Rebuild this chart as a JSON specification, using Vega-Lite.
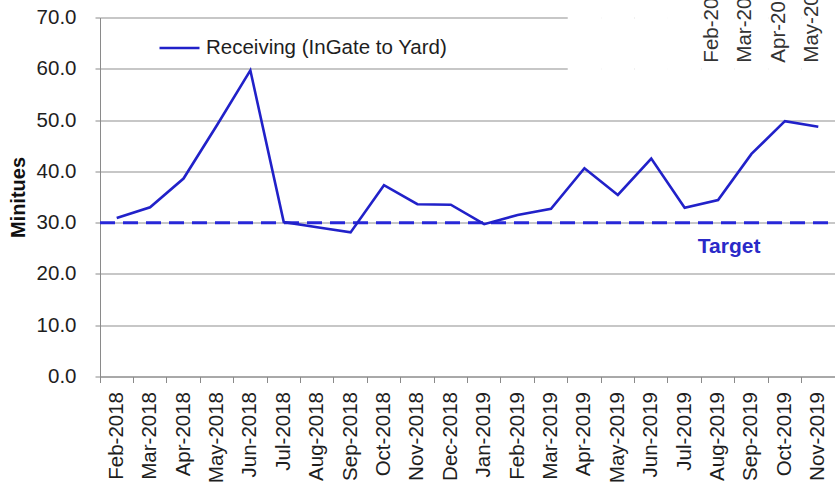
{
  "$schema": "https://vega.github.io/schema/vega-lite/v6.json",
  "width": 735,
  "height": 359,
  "autosize": {"type": "none"},
  "padding": {"left": 100, "top": 17.5, "right": 0, "bottom": 111.5},
  "background": "white",
  "config": {
    "view": {"stroke": null},
    "font": "Liberation Sans",
    "axis": {
      "labelFont": "Liberation Sans",
      "labelFontSize": 20.5,
      "labelColor": "#1e1e1e",
      "domainColor": "#8a8a8a",
      "tickColor": "#8a8a8a",
      "gridColor": "#8f8f8f",
      "gridWidth": 1
    }
  },
  "datasets": {
    "receiving": [
      {"month": "Feb-2018", "minutes": 30.9},
      {"month": "Mar-2018", "minutes": 33.0},
      {"month": "Apr-2018", "minutes": 38.6},
      {"month": "May-2018", "minutes": 49.0},
      {"month": "Jun-2018", "minutes": 59.7},
      {"month": "Jul-2018", "minutes": 30.1},
      {"month": "Aug-2018", "minutes": 29.1},
      {"month": "Sep-2018", "minutes": 28.1},
      {"month": "Oct-2018", "minutes": 37.3},
      {"month": "Nov-2018", "minutes": 33.6},
      {"month": "Dec-2018", "minutes": 33.5},
      {"month": "Jan-2019", "minutes": 29.7},
      {"month": "Feb-2019", "minutes": 31.5},
      {"month": "Mar-2019", "minutes": 32.7},
      {"month": "Apr-2019", "minutes": 40.6},
      {"month": "May-2019", "minutes": 35.4},
      {"month": "Jun-2019", "minutes": 42.5},
      {"month": "Jul-2019", "minutes": 32.9},
      {"month": "Aug-2019", "minutes": 34.4},
      {"month": "Sep-2019", "minutes": 43.4},
      {"month": "Oct-2019", "minutes": 49.8},
      {"month": "Nov-2019", "minutes": 48.7}
    ],
    "overlapMonths": [
      {"month": "Apr-2019"}, {"month": "May-2019"}, {"month": "Jun-2019"}, {"month": "Jul-2019"},
      {"month": "Aug-2019"}, {"month": "Sep-2019"}, {"month": "Oct-2019"}, {"month": "Nov-2019"}
    ],
    "overlapLabels": [
      {"month": "Aug-2019", "label": "Feb-2020"},
      {"month": "Sep-2019", "label": "Mar-2020"},
      {"month": "Oct-2019", "label": "Apr-2020"},
      {"month": "Nov-2019", "label": "May-2020"}
    ],
    "target": [
      {"month": "Aug-2019", "label": "Target", "value": 25.3}
    ]
  },
  "layer": [
    {
      "description": "White panel of the neighbouring chart lying over the top right corner",
      "data": {"name": "overlapMonths"},
      "mark": {"type": "rect", "color": "white"},
      "encoding": {
        "x": {
          "field": "month", "type": "nominal",
          "scale": {"domain": ["Feb-2018","Mar-2018","Apr-2018","May-2018","Jun-2018","Jul-2018","Aug-2018","Sep-2018","Oct-2018","Nov-2018","Dec-2018","Jan-2019","Feb-2019","Mar-2019","Apr-2019","May-2019","Jun-2019","Jul-2019","Aug-2019","Sep-2019","Oct-2019","Nov-2019"], "type": "band", "paddingInner": 0, "paddingOuter": 0},
          "axis": {
            "title": null,
            "labelAngle": -90,
            "bandPosition": 0,
            "tickSize": 6,
            "labelPadding": 9,
            "grid": false
          }
        },
        "y": {"datum": 51.5, "type": "quantitative"},
        "y2": {"datum": 76}
      }
    },
    {
      "data": {"values": [{"goal": 30}]},
      "mark": {"type": "rule", "color": "#2727d8", "strokeWidth": 3, "strokeDash": [15, 8], "strokeDashOffset": 16},
      "encoding": {
        "y": {
          "field": "goal", "type": "quantitative",
          "scale": {"domain": [0, 70], "nice": false, "zero": true},
          "axis": {
            "title": "Minitues",
            "titleFont": "Liberation Sans",
            "titleFontSize": 20,
            "titleFontWeight": "bold",
            "titleColor": "#111111",
            "titleX": -72,
            "titleY": 179.5,
            "titleAngle": -90,
            "titleAlign": "center",
            "titleBaseline": "bottom",
            "values": [0, 10, 20, 30, 40, 50, 60, 70],
            "format": ".1f",
            "tickSize": 5,
            "labelPadding": 19,
            "grid": true
          }
        }
      }
    },
    {
      "data": {"name": "receiving"},
      "mark": {"type": "line", "strokeWidth": 2.6, "strokeJoin": "miter"},
      "encoding": {
        "x": {
          "field": "month", "type": "nominal",
          "scale": {"domain": ["Feb-2018","Mar-2018","Apr-2018","May-2018","Jun-2018","Jul-2018","Aug-2018","Sep-2018","Oct-2018","Nov-2018","Dec-2018","Jan-2019","Feb-2019","Mar-2019","Apr-2019","May-2019","Jun-2019","Jul-2019","Aug-2019","Sep-2019","Oct-2019","Nov-2019"], "type": "band", "paddingInner": 0, "paddingOuter": 0}
        },
        "y": {"field": "minutes", "type": "quantitative"},
        "color": {
          "datum": "Receiving (InGate to Yard)",
          "type": "nominal",
          "scale": {"range": ["#2121c9"]},
          "legend": {
            "title": null,
            "orient": "none",
            "legendX": 58,
            "legendY": 9,
            "padding": 0,
            "symbolType": "stroke",
            "symbolSize": 1600,
            "symbolStrokeWidth": 2.6,
            "labelFont": "Liberation Sans",
            "labelFontSize": 20.5,
            "labelColor": "#1e1e1e",
            "labelOffset": 5,
            "labelLimit": 0
          }
        }
      }
    },
    {
      "data": {"name": "target"},
      "mark": {"type": "text", "font": "Liberation Sans", "fontSize": 21, "fontWeight": "bold", "color": "#2a2ac8", "align": "center", "baseline": "middle", "dx": 11},
      "encoding": {
        "x": {"field": "month", "type": "nominal"},
        "y": {"field": "value", "type": "quantitative"},
        "text": {"field": "label"}
      }
    },
    {
      "description": "Month labels of the neighbouring chart showing through at the top right",
      "data": {"name": "overlapLabels"},
      "mark": {"type": "text", "font": "Liberation Sans", "fontSize": 20.5, "color": "#333333", "angle": 270, "align": "left", "baseline": "alphabetic"},
      "encoding": {
        "x": {"field": "month", "type": "nominal"},
        "y": {"datum": 61.2, "type": "quantitative"},
        "text": {"field": "label"}
      }
    }
  ]
}
